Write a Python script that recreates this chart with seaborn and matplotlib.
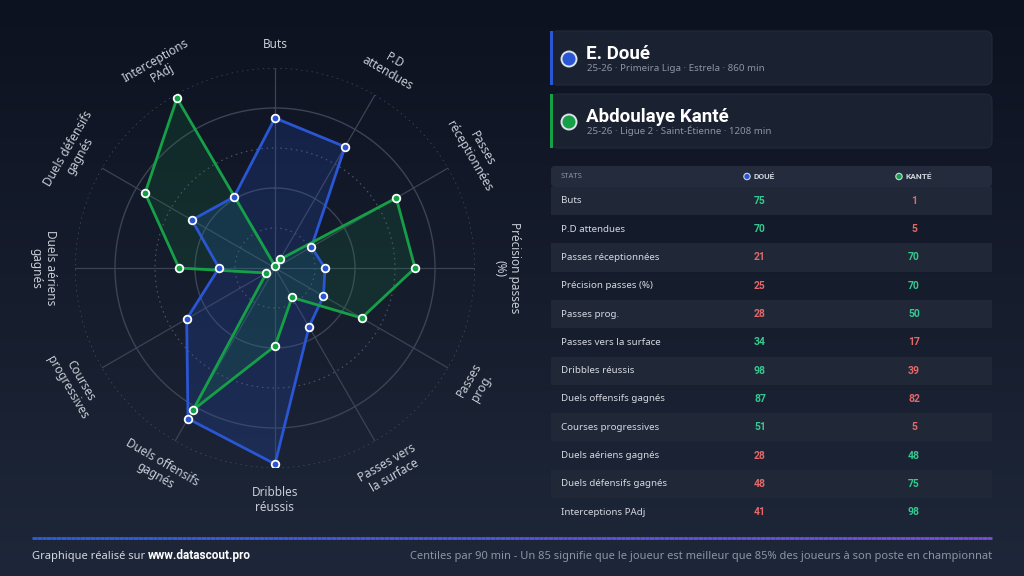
import numpy as np
import pandas as pd
import matplotlib.pyplot as plt
import seaborn as sns
from matplotlib.patches import FancyBboxPatch, Rectangle, Circle
from matplotlib.colors import LinearSegmentedColormap

# data
stats = ["Buts", "P.D attendues", "Passes réceptionnées", "Précision passes (%)",
         "Passes prog.", "Passes vers la surface", "Dribbles réussis",
         "Duels offensifs gagnés", "Courses progressives", "Duels aériens gagnés",
         "Duels défensifs gagnés", "Interceptions PAdj"]
axis_labels = ["Buts", "P.D\nattendues", "Passes\nréceptionnées", "Précision passes\n(%)",
               "Passes\nprog.", "Passes vers\nla surface", "Dribbles\nréussis",
               "Duels offensifs\ngagnés", "Courses\nprogressives", "Duels aériens\ngagnés",
               "Duels défensifs\ngagnés", "Interceptions\nPAdj"]
doue = [75, 70, 21, 25, 28, 34, 98, 87, 51, 28, 48, 41]
kante = [1, 5, 70, 70, 50, 17, 39, 82, 5, 48, 75, 98]

player_names = ["E. Doué", "Abdoulaye Kanté"]
player_short = ["DOUÉ", "KANTÉ"]
player_info = ["25-26 · Primeira Liga · Estrela · 860 min",
               "25-26 · Ligue 2 · Saint-Étienne · 1208 min"]
footer_left = "Graphique réalisé sur "
footer_site = "www.datascout.pro"
footer_right = ("Centiles par 90 min - Un 85 signifie que le joueur est meilleur "
                "que 85% des joueurs à son poste en championnat")

BLUE = "#2a56d4"
GREEN = "#15a048"
UP = "#35c98f"
DOWN = "#e46868"
TXT = "#d4d8e0"
MUTED = "#8c94a4"
BOLD = ["Roboto", "DejaVu Sans"]

sns.set_theme(style="white")
plt.rcParams["font.family"] = ["Noto Sans", "DejaVu Sans"]

fig = plt.figure(figsize=(10.24, 5.76), dpi=100)

# background axes in pixel coords
bg = fig.add_axes([0, 0, 1, 1])
bg.set_xlim(0, 1024)
bg.set_ylim(576, 0)
bg.axis("off")
grad = np.linspace(0, 1, 256).reshape(-1, 1)
cmap_bg = LinearSegmentedColormap.from_list("bg", ["#0d1220", "#1e2739"])
bg.imshow(grad, cmap=cmap_bg, extent=(0, 1024, 576, 0), aspect="auto", zorder=0)

# player cards
card_tops = [31, 94]
for i, top in enumerate(card_tops):
    col = [BLUE, GREEN][i]
    bg.add_patch(FancyBboxPatch((551, top), 441, 54, boxstyle="round,pad=0,rounding_size=7",
                                fc="#1a2130", ec="#222a39", lw=0.8, zorder=1))
    bg.add_patch(Rectangle((550, top), 3, 54, fc=col, ec="none", zorder=2))
    bg.add_patch(Circle((569, top + 28), 7.5, fc=col, ec="#dde2ea", lw=1.4, zorder=3))
    bg.text(586, top + 28, player_names[i], color="white", fontsize=13.5, fontweight="bold",
            family=BOLD, va="baseline", ha="left", zorder=3)
    bg.text(587, top + 40, player_info[i], color=MUTED, fontsize=7,
            va="baseline", ha="left", zorder=3)

# table
bg.add_patch(FancyBboxPatch((551, 166), 441, 21, boxstyle="round,pad=0,rounding_size=4",
                            fc="#232b3c", ec="none", zorder=1))
bg.text(561, 176.5, "STATS", color=MUTED, fontsize=5.5, va="center", ha="left", zorder=3)
for j, (cx, name) in enumerate(zip([747, 899], player_short)):
    bg.add_patch(Circle((cx, 176.5), 3.2, fc=[BLUE, GREEN][j], ec="#cfd5de", lw=0.8, zorder=3))
    bg.text(cx + 7, 176.5, name, color="#cfd5de", fontsize=6, fontweight="bold",
            family=BOLD, va="center", ha="left", zorder=3)

row_h = 28.3
for k, stat in enumerate(stats):
    y0 = 186.7 + k * row_h
    yc = y0 + row_h / 2
    if k % 2 == 0:
        bg.add_patch(Rectangle((551, y0), 441, row_h, fc="#202838", ec="none", zorder=1))
    bg.text(561, yc, stat, color=TXT, fontsize=7, va="center", ha="left", zorder=3)
    d, kt = doue[k], kante[k]
    bg.text(760, yc, str(d), color=UP if d > kt else DOWN, fontsize=7.5, fontweight="bold",
            family=BOLD, va="center", ha="center", zorder=3)
    bg.text(914, yc, str(kt), color=UP if kt > d else DOWN, fontsize=7.5, fontweight="bold",
            family=BOLD, va="center", ha="center", zorder=3)

# footer
xs = np.linspace(32, 992, 200)
line_cmap = LinearSegmentedColormap.from_list("ln", ["#2d5fd2", "#7a4ed8"])
for a in range(len(xs) - 1):
    bg.plot(xs[a:a + 2], [538, 538], color=line_cmap(a / (len(xs) - 2)), lw=2,
            solid_capstyle="butt", zorder=2)
t1 = bg.text(32, 558.5, footer_left, color=TXT, fontsize=8, va="baseline", ha="left", zorder=3)
renderer = fig.canvas.get_renderer()
x_end = bg.transData.inverted().transform(t1.get_window_extent(renderer))[1][0]
bg.text(x_end, 558.5, footer_site, color="white", fontsize=8.5, fontweight="bold",
        family=BOLD, va="baseline", ha="left", zorder=3)
bg.text(992, 558.5, footer_right, color=MUTED, fontsize=8, va="baseline", ha="right", zorder=3)

# radar
ax = fig.add_axes([75 / 1024, 108 / 576, 400 / 1024, 400 / 576], projection="polar")
ax.set_facecolor("none")
ax.set_theta_zero_location("N")
ax.set_theta_direction(-1)
ax.set_ylim(0, 100)
ax.set_xticks([])
ax.set_yticks([])
ax.grid(False)
ax.spines["polar"].set_visible(False)

n = len(stats)
theta = np.arange(n) * 2 * np.pi / n
circ = np.linspace(0, 2 * np.pi, 361)
for r in [20, 40, 60, 80, 100]:
    dotted = r in (20, 60, 100)
    ax.plot(circ, np.full_like(circ, r), color="#4a5263" if dotted else "#3b4354",
            lw=0.9 if dotted else 1.0, ls=(0, (1.2, 3)) if dotted else "-", zorder=1)
for t in theta:
    ax.plot([t, t], [0, 100], color="#3b4354", lw=0.9, zorder=1)

for vals, col, fill_a in [(doue, BLUE, 0.2), (kante, GREEN, 0.14)]:
    df = pd.DataFrame({"theta": np.append(theta, theta[0] + 2 * np.pi),
                       "r": np.append(vals, vals[0])})
    ax.fill(df["theta"], df["r"], color=col, alpha=fill_a, lw=0, zorder=2)
    sns.lineplot(data=df, x="theta", y="r", ax=ax, sort=False, estimator=None,
                 color=col, lw=2, zorder=3)
    sns.scatterplot(x=theta, y=vals, ax=ax, color=col, s=30, edgecolor="white",
                    linewidth=1.3, zorder=4)
ax.set_xlabel("")
ax.set_ylabel("")

for t, lab in zip(theta, axis_labels):
    deg = np.degrees(t)
    rot = 180 - deg if 90 < deg <= 270 else -deg
    rad = 112 if "\n" not in lab else 116
    ax.text(t, rad, lab, color="#c8cdd6", fontsize=8.5, rotation=rot, rotation_mode="anchor",
            ha="center", va="center", multialignment="center", linespacing=1.15,
            clip_on=False, zorder=5)

fig.savefig("out.png", dpi=100)
